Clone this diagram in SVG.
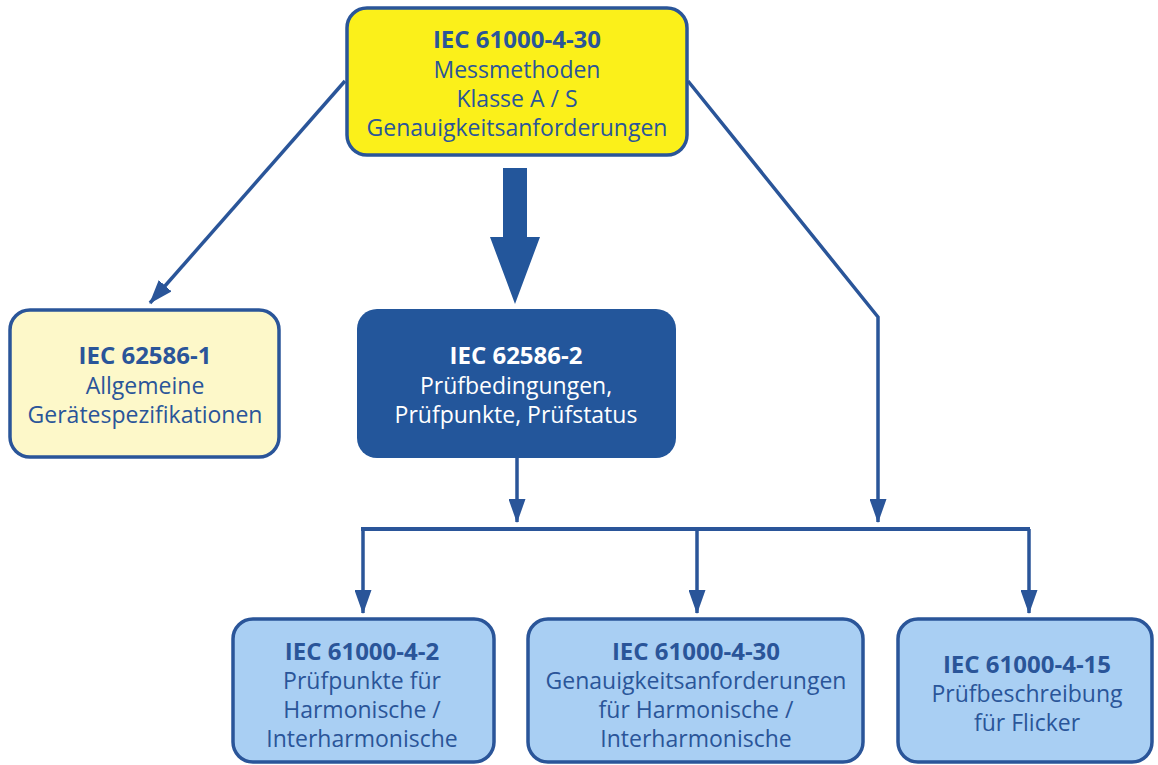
<svg xmlns="http://www.w3.org/2000/svg" width="1158" height="765" viewBox="0 0 1158 765">
<defs>
<style>
.box{stroke:#2a5599;stroke-width:3.5}
.t{font-family:"Open Sans","Noto Sans",sans-serif;font-size:23px;fill:#2a5599;text-anchor:middle}
.b{font-weight:bold;font-size:24px}
.w{fill:#ffffff}
.ln{fill:none;stroke:#2a5599;stroke-width:3.5}
</style>
<marker id="ah" markerWidth="24" markerHeight="17" refX="23" refY="8.5" orient="auto" markerUnits="userSpaceOnUse" viewBox="0 0 24 17">
<path d="M0,0 L24,8.5 L0,17 Z" fill="#2a5599"/>
</marker>
</defs>
<rect width="1158" height="765" fill="#ffffff"/>
<g id="connectors">
<path class="ln" d="M345,81 L150,303" marker-end="url(#ah)"/>
<path class="ln" d="M688,81 L878,317 L878,522" marker-end="url(#ah)"/>
<path class="ln" d="M517,458 L517,522" marker-end="url(#ah)"/>
<path d="M503,168 L527,168 L527,237 L540,237 L515,304 L490,237 L503,237 Z" fill="#23569b"/>
<path class="ln" style="stroke-width:4" d="M363,531 L363,529 L1030,529"/>
<path class="ln" d="M363,529 L363,613" marker-end="url(#ah)"/>
<path class="ln" d="M697,529 L697,613" marker-end="url(#ah)"/>
<path class="ln" d="M1029,529 L1029,613" marker-end="url(#ah)"/>
</g>
<g id="n-top">
<rect class="box" x="347" y="8" width="340" height="147" rx="20" fill="#fbf01a"/>
<text class="t b" x="517" y="48">IEC 61000-4-30</text>
<text class="t" x="517" y="78">Messmethoden</text>
<text class="t" x="517" y="107">Klasse A / S</text>
<text class="t" x="517" y="136">Genauigkeitsanforderungen</text>
</g>
<g id="n-left">
<rect class="box" x="10" y="310" width="269" height="147" rx="20" fill="#fdf8c9"/>
<text class="t b" x="145" y="364">IEC 62586-1</text>
<text class="t" x="145" y="394">Allgemeine</text>
<text class="t" x="145" y="423">Gerätespezifikationen</text>
</g>
<g id="n-mid">
<rect x="357" y="309" width="319" height="149" rx="20" fill="#23569b"/>
<text class="t b w" x="516" y="364">IEC 62586-2</text>
<text class="t w" x="516" y="394">Prüfbedingungen,</text>
<text class="t w" x="516" y="423">Prüfpunkte, Prüfstatus</text>
</g>
<g id="n-b1">
<rect class="box" x="233" y="619" width="261" height="143" rx="20" fill="#a9cff3"/>
<text class="t b" x="362" y="660">IEC 61000-4-2</text>
<text class="t" x="362" y="689">Prüfpunkte für</text>
<text class="t" x="362" y="718">Harmonische /</text>
<text class="t" x="362" y="747">Interharmonische</text>
</g>
<g id="n-b2">
<rect class="box" x="528" y="619" width="335" height="143" rx="20" fill="#a9cff3"/>
<text class="t b" x="696" y="660">IEC 61000-4-30</text>
<text class="t" x="696" y="689">Genauigkeitsanforderungen</text>
<text class="t" x="696" y="718">für Harmonische /</text>
<text class="t" x="696" y="747">Interharmonische</text>
</g>
<g id="n-b3">
<rect class="box" x="898" y="619" width="254" height="143" rx="20" fill="#a9cff3"/>
<text class="t b" x="1027" y="673">IEC 61000-4-15</text>
<text class="t" x="1027" y="702">Prüfbeschreibung</text>
<text class="t" x="1027" y="731">für Flicker</text>
</g>
</svg>
